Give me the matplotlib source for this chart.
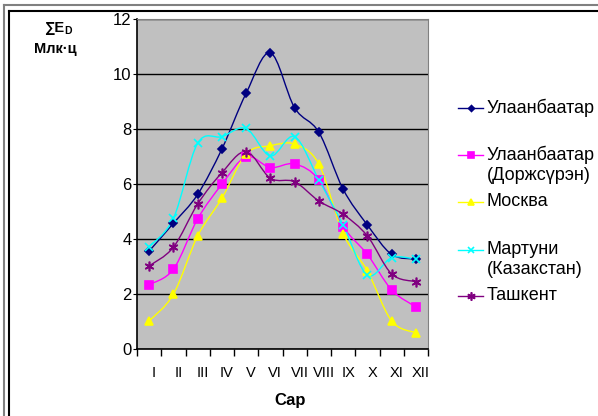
import numpy as np
import matplotlib
matplotlib.use('Agg')
import matplotlib.pyplot as plt
import matplotlib.transforms as mtransforms
from matplotlib.path import Path
from matplotlib.patches import PathPatch
from matplotlib.lines import Line2D

plt.rcParams['font.family'] = ['Liberation Sans', 'DejaVu Sans']

# Data
months = ['I', 'II', 'III', 'IV', 'V', 'VI', 'VII', 'VIII', 'IX', 'X', 'XI', 'XII']
ulaanbaatar = [3.56, 4.57, 5.62, 7.27, 9.3, 10.77, 8.77, 7.88, 5.81, 4.51, 3.44, 3.27]
ulaanbaatar_d = [2.34, 2.9, 4.73, 5.99, 6.99, 6.6, 6.73, 6.15, 4.45, 3.44, 2.15, 1.53]
moskva = [1.02, 1.99, 4.11, 5.48, 7.09, 7.39, 7.45, 6.72, 4.2, 2.84, 1.02, 0.59]
martuni = [3.72, 4.75, 7.48, 7.72, 8.02, 7.02, 7.72, 6.15, 4.51, 2.69, 3.32, 3.27]
tashkent = [3.02, 3.7, 5.27, 6.41, 7.18, 6.21, 6.08, 5.38, 4.9, 4.11, 2.73, 2.45]

series = [
    ('Улаанбаатар', ulaanbaatar, '#000080', 'D', 4),
    ('Улаанбаатар\n(Доржсүрэн)', ulaanbaatar_d, '#FF00FF', 's', 6),
    ('Москва', moskva, '#FFFF00', '^', 6),
    ('Мартуни\n(Казакстан)', martuni, '#00FFFF', 'x', 6),
    ('Ташкент', tashkent, '#800080', (6, 2, 0), 7),
]


def smooth_path(x, y):
    # bezier segments through the points (like Excel's smoothed line)
    pts = np.column_stack([x, y])
    n = len(pts)
    verts = [pts[0]]
    codes = [Path.MOVETO]
    for i in range(n - 1):
        p0 = pts[i - 1] if i > 0 else pts[i]
        p1 = pts[i]
        p2 = pts[i + 1]
        p3 = pts[i + 2] if i + 2 < n else pts[i + 1]
        c1 = p1 + (p2 - p0) / 6.0
        c2 = p2 - (p3 - p1) / 6.0
        verts += [c1, c2, p2]
        codes += [Path.CURVE4] * 3
    return Path(verts, codes)


fig = plt.figure(figsize=(5.98, 4.16), dpi=100)
ax = fig.add_axes([137 / 598, 1 - 349 / 416, 291 / 598, 330 / 416])
ax.set_facecolor('#C0C0C0')

xpos = np.arange(len(months)) + 0.5
for name, vals, col, mk, ms in series:
    ax.add_patch(PathPatch(smooth_path(xpos, vals), facecolor='none',
                           edgecolor=col, lw=1.0, zorder=3))
    ax.plot(xpos, vals, linestyle='none', marker=mk, color=col, ms=ms,
            mew=1.2, zorder=4)

ax.set_xlim(0, 12)
ax.set_ylim(0, 12)
ax.set_yticks(range(0, 13, 2))
ax.yaxis.grid(True, color='black', lw=1.0)
ax.set_axisbelow(True)
ax.set_xticks(range(13))
ax.set_xticklabels([])
ax.set_xticks(xpos, minor=True)
ax.set_xticklabels(months, minor=True, fontsize=10.5)
ax.tick_params(axis='x', which='minor', length=0, pad=12)
ax.tick_params(axis='x', which='major', length=5, direction='out', width=1)
ax.tick_params(axis='y', length=3, direction='out', labelsize=12, pad=1)
offset = mtransforms.ScaledTranslation(5 / 100, 0, fig.dpi_scale_trans)
for lab in ax.xaxis.get_minorticklabels():
    lab.set_transform(lab.get_transform() + offset)

for s in ['top', 'right']:
    ax.spines[s].set_color('#808080')
for s in ['left', 'bottom']:
    ax.spines[s].set_color('black')
    ax.spines[s].set_linewidth(1.2)

fig.text(290 / 598, 1 - 401 / 416, 'Сар', fontsize=12, fontweight='bold',
         ha='center', va='center')

# y axis title
fig.text(54 / 598, 1 - 28 / 416, '∑E', fontsize=10.5, fontweight='bold',
         ha='center', va='center')
fig.text(64 / 598, 1 - 31 / 416, 'D', fontsize=7.5, fontweight='bold',
         ha='left', va='center')
fig.text(55 / 598, 1 - 49 / 416, 'Млк·ц', fontsize=10.5, fontweight='bold',
         ha='center', va='center')

# legend drawn by hand
ys = [108, 155, 202, 250, 296]
for (name, vals, col, mk, ms), yy in zip(series, ys):
    fy = 1 - yy / 416
    fig.add_artist(Line2D([458 / 598, 483 / 598], [fy, fy], color=col, lw=1.0,
                          transform=fig.transFigure))
    fig.add_artist(Line2D([471 / 598], [fy], color=col, marker=mk, ms=ms - 1,
                          mew=1.2, transform=fig.transFigure))
    fig.text(487 / 598, fy + 9 / 416, name, fontsize=13, ha='left', va='top',
             linespacing=1.2)

# double frame
for xx, yy, c in [(4, 5, '#808080'), (9, 11, 'black')]:
    fig.add_artist(Line2D([xx / 598, xx / 598], [0, 1 - yy / 416], color=c,
                          lw=1.5, transform=fig.transFigure))
    fig.add_artist(Line2D([xx / 598, 1], [1 - yy / 416, 1 - yy / 416], color=c,
                          lw=1.5, transform=fig.transFigure))

fig.savefig('out.png', dpi=100)
